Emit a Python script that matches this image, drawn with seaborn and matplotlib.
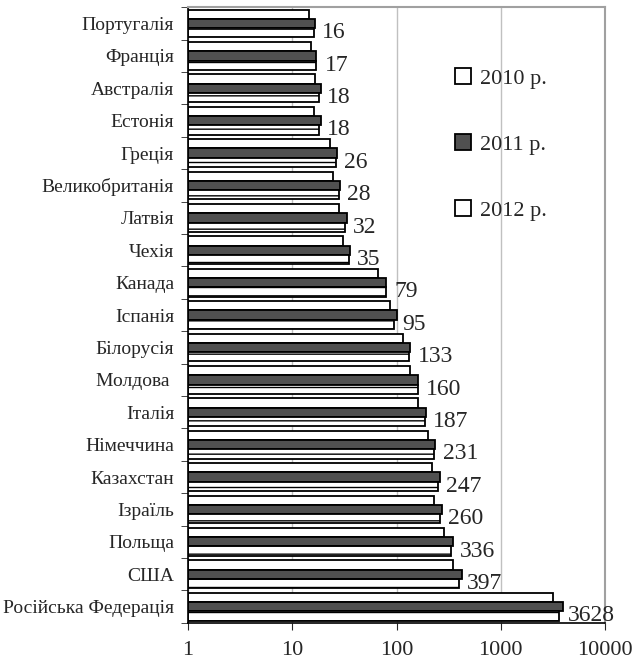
import pandas as pd
import numpy as np
import matplotlib
matplotlib.use("Agg")
import matplotlib.pyplot as plt
import seaborn as sns

countries = ['Португалія', 'Франція', 'Австралія', 'Естонія', 'Греція',
             'Великобританія', 'Латвія', 'Чехія', 'Канада', 'Іспанія',
             'Білорусія', 'Молдова ', 'Італія', 'Німеччина', 'Казахстан',
             'Ізраїль', 'Польща', 'США', 'Російська Федерація']
years = ['2010 р.', '2011 р.', '2012 р.']
v2010 = [14.5, 15, 16.5, 16, 23, 24.5, 28, 30.5, 66, 86, 115, 134, 160, 200, 218, 228, 285, 348, 3160]
v2011 = [16.5, 17, 19, 19, 27, 29, 33.5, 36, 80, 100, 135, 162, 192, 235, 260, 272, 345, 425, 3920]
v2012 = [16, 17, 18, 18, 26, 28, 32, 35, 79, 95, 133, 160, 187, 231, 247, 260, 336, 397, 3628]

df = pd.DataFrame({
    'country': countries * 3,
    'year': [years[0]] * 19 + [years[1]] * 19 + [years[2]] * 19,
    'value': v2010 + v2011 + v2012,
})

sns.set_style('white')
plt.rcParams['font.family'] = ['Liberation Serif', 'DejaVu Serif']

fig = plt.figure(figsize=(6.35, 6.64), dpi=100)
ax = fig.add_axes([0.296, 0.062, 0.657, 0.927])

sns.barplot(data=df, x='value', y='country', hue='year', orient='h',
            palette=['white', '#505050', 'white'], edgecolor='black',
            linewidth=1.3, width=0.86, ax=ax)
ax.set_xscale('log')

# bars on a log axis must start at 1, not 0
for cont, vals in zip(ax.containers, [v2010, v2011, v2012]):
    for bar, val in zip(cont, vals):
        bar.set_x(1)
        bar.set_width(val - 1)

# 2012 bars get a dashed pattern
for bar in ax.containers[2]:
    bar.set_hatch('--')

ax.set_xlim(1, 10000)
ax.set_ylim(len(countries) - 0.5, -0.5)
ax.set_xticks([1, 10, 100, 1000, 10000])
ax.set_xticklabels(['1', '10', '100', '1000', '10000'], fontsize=16)
ax.xaxis.set_minor_locator(matplotlib.ticker.NullLocator())
ax.tick_params(axis='x', pad=8, length=5, direction='out', bottom=True)
ax.tick_params(axis='y', which='major', labelsize=14, length=0, pad=10)
ax.set_yticks(np.arange(len(countries) + 1) - 0.5, minor=True)
ax.tick_params(axis='y', which='minor', length=5, direction='out', left=True)
ax.set_xlabel('')
ax.set_ylabel('')
ax.grid(axis='x', which='major', color='#c0c0c0', linewidth=1)
ax.set_axisbelow(True)

for side in ['top', 'right']:
    ax.spines[side].set_color('#a0a0a0')
    ax.spines[side].set_linewidth(1.5)
for side in ['left', 'bottom']:
    ax.spines[side].set_color('black')
    ax.spines[side].set_linewidth(1.2)

for bar, val in zip(ax.containers[2], v2012):
    ax.text(val * 1.2, bar.get_y() + bar.get_height() / 2, str(val),
            va='center', ha='left', fontsize=17)

ax.legend(loc='upper left', bbox_to_anchor=(0.614, 0.919), frameon=False,
          borderpad=0, fontsize=16, labelspacing=2.05, handlelength=0.7,
          handleheight=0.7, handletextpad=0.4)

plt.savefig('out.png', dpi=100)
